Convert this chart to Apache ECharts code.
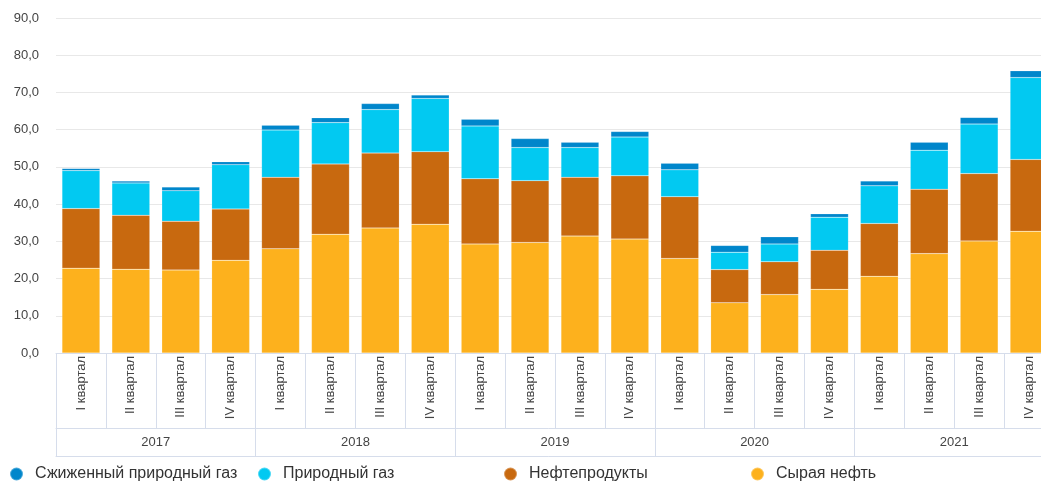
<!DOCTYPE html>
<html>
<head>
<meta charset="utf-8">
<script src="https://cdn.jsdelivr.net/npm/echarts@6/dist/echarts.min.js"></script>
<style>html,body{margin:0;padding:0;background:#fff}#c{width:1041px;height:482px}</style>
</head>
<body>
<div id="c"></div>
<script>
const years = ['2017', '2018', '2019', '2020', '2021'];
const quarterNames = ['I квартал', 'II квартал', 'III квартал', 'IV квартал'];
const categories = years.flatMap(() => quarterNames);
const seriesNames = ['Сжиженный природный газ', 'Природный газ', 'Нефтепродукты', 'Сырая нефть'];
const crude =    [22.8, 22.5, 22.3, 24.9, 28.0, 31.9, 33.6, 34.6, 29.3, 29.7, 31.4, 30.6, 25.4, 13.5, 15.7, 17.1, 20.6, 26.7, 30.1, 32.7];
const products = [16.0, 14.5, 13.1, 13.8, 19.2, 18.9, 20.1, 19.5, 17.5, 16.6, 15.8, 17.0, 16.6, 8.9, 8.8, 10.5, 14.2, 17.3, 18.1, 19.3];
const gas =      [10.2, 8.7, 8.2, 11.9, 12.7, 11.1, 11.7, 14.3, 14.2, 8.9, 8.0, 10.4, 7.2, 4.7, 4.8, 8.9, 10.1, 10.5, 13.3, 22.0];
const lng =      [0.6, 0.5, 1.0, 0.8, 1.3, 1.3, 1.6, 0.9, 1.8, 2.4, 1.4, 1.5, 1.8, 1.8, 1.9, 0.9, 1.3, 2.1, 1.8, 1.8];

const colors = {
  'Сжиженный природный газ': '#0086CB',
  'Природный газ': '#02C9F1',
  'Нефтепродукты': '#C8690F',
  'Сырая нефть': '#FDB11D'
};
const FONT = 'Liberation Sans, Arial, sans-serif';
const axisCol = '#D6DDEB';

const chart = echarts.init(document.getElementById('c'), null, {renderer: 'canvas'});

function mkSeries(name, data) {
  return {
    name: name, type: 'bar', stack: 'total', data: data,
    barCategoryGap: '24%',
    itemStyle: {color: colors[name], borderColor: 'rgba(255,255,255,0.3)', borderWidth: 0.5},
    emphasis: {disabled: true}
  };
}
const legendLefts = [9, 257, 503, 750];
const legends = seriesNames.map((n, i) => ({
  data: [n], left: legendLefts[i], top: 466, padding: 0, icon: 'circle',
  itemWidth: 13, itemHeight: 13, itemGap: 0, selectedMode: false,
  textStyle: {fontFamily: FONT, fontSize: 16, color: '#333', padding: [0, 0, 0, 7]}
}));

chart.setOption({
  animation: false,
  color: seriesNames.map(n => colors[n]),
  legend: legends,
  grid: {left: 56, top: 18, right: -13, height: 335, containLabel: false, outerBoundsMode: 'none'},
  yAxis: {
    type: 'value', min: 0, max: 90, interval: 10,
    axisLine: {show: false}, axisTick: {show: false},
    splitLine: {lineStyle: {color: '#E8E8E8', width: 1}},
    axisLabel: {fontFamily: FONT, fontSize: 13, color: '#444', margin: 17,
      formatter: v => v.toFixed(1).replace('.', ',')}
  },
  xAxis: [
    {
      type: 'category', data: categories, position: 'bottom',
      axisLine: {lineStyle: {color: axisCol}},
      axisTick: {show: true, interval: 0, length: 75, lineStyle: {color: axisCol}},
      axisLabel: {interval: 0, rotate: 90, fontFamily: FONT, fontSize: 13, color: '#444', margin: 3}
    },
    {
      type: 'category', data: years, position: 'bottom', offset: 75,
      axisLine: {lineStyle: {color: axisCol}},
      axisTick: {show: true, interval: 0, length: 28, lineStyle: {color: axisCol}},
      axisLabel: {interval: 0, fontFamily: FONT, fontSize: 13, color: '#444', margin: 8}
    },
    {
      type: 'category', data: years, position: 'bottom', offset: 103,
      axisLine: {lineStyle: {color: axisCol}},
      axisTick: {show: false}, axisLabel: {show: false}
    }
  ],
  series: [
    mkSeries('Сырая нефть', crude),
    mkSeries('Нефтепродукты', products),
    mkSeries('Природный газ', gas),
    mkSeries('Сжиженный природный газ', lng)
  ]
});
</script>
</body>
</html>
